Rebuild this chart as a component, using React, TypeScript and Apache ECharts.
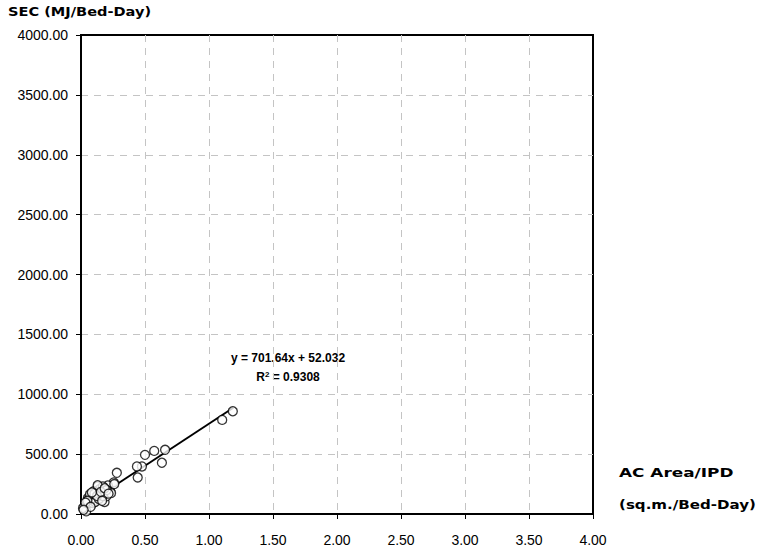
import React, { useEffect, useRef } from "react";
import * as echarts from "echarts";

// Specific energy consumption vs. air-conditioned area per in-patient day
const acAreaPerIPD: number[] = [
  1.186, 1.103, 0.657, 0.572, 0.5, 0.632, 0.476, 0.437, 0.443, 0.28,
  0.256, 0.21, 0.228, 0.132, 0.145, 0.171, 0.145, 0.119, 0.08, 0.054,
  0.041, 0.067, 0.093, 0.158, 0.184, 0.197, 0.235, 0.028, 0.041, 0.016,
  0.1, 0.12, 0.06, 0.09, 0.11, 0.14, 0.17, 0.2, 0.07, 0.05, 0.13, 0.26,
  0.035, 0.075, 0.105, 0.125, 0.155, 0.185, 0.215, 0.02, 0.085, 0.165,
];
const secPerBedDay: number[] = [
  858, 786, 536, 527, 494, 428, 397, 397, 305, 344,
  264, 239, 189, 231, 208, 231, 161, 147, 147, 133,
  78, 92, 92, 119, 100, 147, 175, 64, 22, 50,
  190, 180, 120, 130, 100, 125, 150, 200, 165, 110, 240, 250,
  95, 60, 170, 150, 185, 215, 170, 35, 180, 110,
];

const slope = 701.64;
const intercept = 52.032;
const rSquared = "0.9308";
const trendRange: number[] = [0.0, 1.19];

const xTicks = { min: 0, max: 4, interval: 0.5 };
const yTicks = { min: 0, max: 4000, interval: 500 };

export default function App() {
  const ref = useRef<HTMLDivElement>(null);

  useEffect(() => {
    if (!ref.current) return;
    const chart = echarts.init(ref.current, null, { renderer: "svg" });
    const points = acAreaPerIPD.map((x, i) => [x, secPerBedDay[i]]);
    const trend = trendRange.map((x) => [x, slope * x + intercept]);
    const tickFont = { fontFamily: "Liberation Sans, Arial, sans-serif", fontSize: 14, color: "#000" };
    const titleFont = {
      fontFamily: "DejaVu Sans, sans-serif",
      fontWeight: "bold" as const,
      fontSize: 13,
      fill: "#000",
    };
    const gridLine = { show: true, showMinLine: false, showMaxLine: false, lineStyle: { color: "#c4c4c4", type: [7, 6], width: 1 } };

    chart.setOption({
      animation: false,
      backgroundColor: "#fff",
      grid: { left: 81, right: 167, top: 35, bottom: 33, show: true, borderColor: "#000", borderWidth: 2 },
      xAxis: {
        type: "value",
        ...xTicks,
        axisLine: { show: true, onZero: false, lineStyle: { color: "#000", width: 2 } },
        axisTick: { show: true, length: 5, lineStyle: { color: "#000" } },
        axisLabel: { ...tickFont, margin: 19, formatter: (v: number) => v.toFixed(2) },
        splitLine: gridLine,
      },
      yAxis: {
        type: "value",
        ...yTicks,
        axisLine: { show: true, onZero: false, lineStyle: { color: "#000", width: 2 } },
        axisTick: { show: true, length: 5, lineStyle: { color: "#000" } },
        axisLabel: { ...tickFont, margin: 13, formatter: (v: number) => v.toFixed(2) },
        splitLine: gridLine,
      },
      series: [
        {
          type: "line",
          data: trend,
          showSymbol: false,
          lineStyle: { color: "#000", width: 2 },
          z: 2,
        },
        {
          type: "scatter",
          data: points,
          symbol: "circle",
          symbolSize: 9,
          itemStyle: { color: "#fff", borderColor: "#000", borderWidth: 1.3 },
          z: 3,
        },
      ],
      graphic: [
        { type: "text", x: 8, y: 5, scaleX: 1.12, style: { text: "SEC (MJ/Bed-Day)", ...titleFont } },
        { type: "text", x: 619, y: 466, scaleX: 1.3, style: { text: "AC Area/IPD", ...titleFont } },
        { type: "text", x: 619, y: 498, scaleX: 1.16, style: { text: "(sq.m./Bed-Day)", ...titleFont } },
        {
          type: "text",
          x: 288,
          y: 358,
          style: {
            text: `y = ${slope}x + ${intercept}`,
            fontFamily: "Liberation Sans, Arial, sans-serif",
            fontWeight: "bold",
            fontSize: 12,
            fill: "#000",
            align: "center",
            verticalAlign: "middle",
          },
        },
        {
          type: "text",
          x: 288,
          y: 377,
          style: {
            text: `{b|R}{s|2}{b| = ${rSquared}}`,
            align: "center",
            verticalAlign: "middle",
            rich: {
              b: { fontFamily: "Liberation Sans, Arial, sans-serif", fontWeight: "bold", fontSize: 12, fill: "#000" },
              s: {
                fontFamily: "Liberation Sans, Arial, sans-serif",
                fontWeight: "bold",
                fontSize: 8,
                fill: "#000",
                verticalAlign: "top",
                padding: [0, 0, 6, 0],
              },
            },
          },
        },
      ],
    });
    return () => chart.dispose();
  }, []);

  return <div ref={ref} style={{ position: "absolute", left: 0, top: 0, width: 760, height: 547 }} />;
}
